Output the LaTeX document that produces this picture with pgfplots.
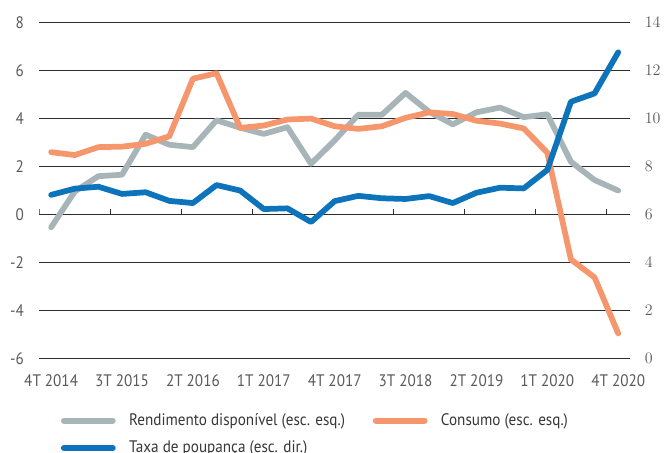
\documentclass[border=0pt]{standalone}
\usepackage{fontspec}
\setmainfont{PT Sans}[FakeStretch=0.91]
\usepackage{pgfplots}
\usepackage{pgfplotstable}
\pgfplotsset{compat=1.18}
\definecolor{cgray}{RGB}{167,181,184}
\definecolor{corange}{RGB}{245,150,108}
\definecolor{cblue}{RGB}{13,115,187}
\definecolor{ctext}{RGB}{88,89,91}
\definecolor{clegtext}{RGB}{55,55,57}
\definecolor{cgrid}{RGB}{45,45,45}

\pgfplotstableread{
i g o b
0 -0.54 2.59 6.81
1 0.95 2.47 7.07
2 1.59 2.80 7.15
3 1.65 2.82 6.85
4 3.32 2.94 6.92
5 2.90 3.25 6.56
6 2.80 5.65 6.47
7 3.92 5.88 7.22
8 3.61 3.60 6.99
9 3.35 3.70 6.22
10 3.63 3.95 6.25
11 2.11 3.99 5.68
12 3.08 3.67 6.55
13 4.15 3.56 6.77
14 4.15 3.67 6.67
15 5.06 4.02 6.64
16 4.27 4.25 6.76
17 3.75 4.18 6.47
18 4.25 3.90 6.90
19 4.45 3.78 7.11
20 4.05 3.58 7.08
21 4.17 2.57 7.85
22 2.19 -1.88 10.69
23 1.43 -2.63 11.04
24 0.99 -4.96 12.75
}\data

\pgfplotsset{
  base/.style={
    scale only axis, width=443pt, height=252pt,
    xmin=-0.5, xmax=24.5,
    axis line style={draw=none}, major tick length=0pt,
    tick style={draw=none},
    ticklabel style={font=\fontsize{12.5}{14}\selectfont, text=ctext},
  },
}

\begin{document}
\begin{tikzpicture}
\begin{axis}[base,
  ymin=-6, ymax=8,
  xtick={0,3,...,24},
  xticklabels={4T 2014,3T 2015,2T 2016,1T 2017,4T 2017,3T 2018,2T 2019,1T 2020,4T 2020},
  xticklabel pos=lower,
  xticklabel style={yshift=-8.5pt},
  ytick={-6,-4,...,8},
  yticklabels={-6,-4,-2,0,2,4,6,8},
  yticklabel pos=left,
  yticklabel style={anchor=east, xshift=-8pt},
  ymajorgrids, grid style={cgrid, line width=0.6pt},
  legend columns=2,
  legend cell align=left,
  legend style={at={(rel axis cs:0,0)}, anchor=north west, xshift=16pt, yshift=-39.25pt,
    draw=none, fill=none, inner sep=0pt,
    font=\fontsize{12.5}{14}\selectfont, text=clegtext,
    /tikz/every odd column/.append style={column sep=8pt},
    /tikz/every even column/.append style={column sep=18.75pt},
    row sep=6.1pt},
  legend image code/.code={\draw[#1, line width=4.5pt, line cap=round] (2.2pt,0pt) -- (38.8pt,0pt);},
]
\addplot[cgray, line width=4.3pt, line join=round, line cap=round] table[x=i, y=g] {\data};
\addlegendentry{Rendimento disponível (esc. esq.)}
\addplot[corange, line width=4.3pt, line join=round, line cap=round] table[x=i, y=o] {\data};
\addlegendentry{Consumo (esc. esq.)}
\addlegendimage{cblue}
\addlegendentry{Taxa de poupança (esc. dir.)}
\pgfplotsinvokeforeach{-0.5,2.5,5.5,8.5,11.5,14.5,17.5,20.5,23.5}{
  \draw[cgrid, line width=0.6pt] (axis cs:#1,0) -- ++(0pt,4pt);
}
\end{axis}
\begin{axis}[base,
  ymin=0, ymax=14,
  xtick=\empty,
  ytick={0,2,...,14},
  yticklabel pos=right,
  yticklabel style={anchor=west, xshift=7.6pt},
]
\addplot[cblue, line width=4.3pt, line join=round, line cap=round] table[x=i, y=b] {\data};
\end{axis}
\pgfresetboundingbox
\path[use as bounding box] (-29.5pt,-71pt) rectangle (468.5pt,268.75pt);
\end{tikzpicture}
\end{document}
